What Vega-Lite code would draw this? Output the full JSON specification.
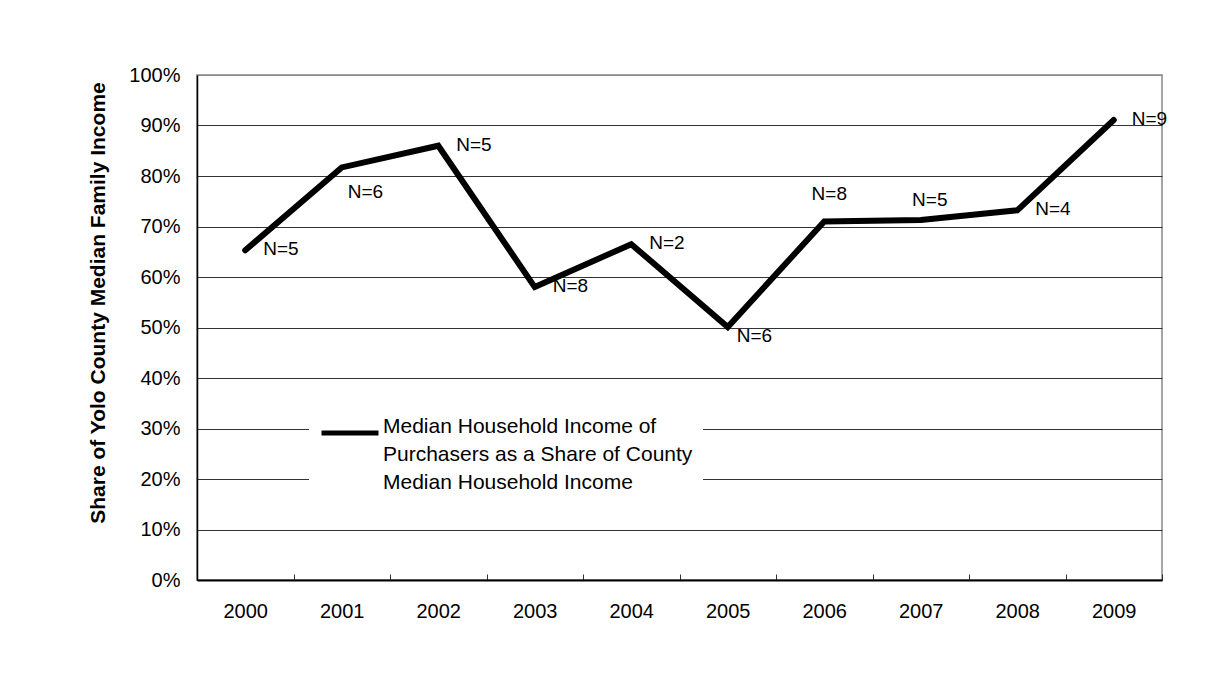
{
  "$schema": "https://vega.github.io/schema/vega-lite/v6.json",
  "width": 965,
  "height": 505,
  "autosize": {"type": "none"},
  "padding": {"left": 197, "top": 75, "right": 65, "bottom": 99},
  "background": "white",
  "config": {
    "font": "Liberation Sans",
    "view": {"stroke": "#888", "strokeWidth": 1.5},
    "style": {"guide-label": {"lineHeight": 28}}
  },
  "data": {
    "values": [
      {"year": "2000", "share": 0.653, "label": "N=5", "series": "Median Household Income of Purchasers as a Share of County Median Household Income"},
      {"year": "2001", "share": 0.817, "label": "N=6", "series": "Median Household Income of Purchasers as a Share of County Median Household Income"},
      {"year": "2002", "share": 0.860, "label": "N=5", "series": "Median Household Income of Purchasers as a Share of County Median Household Income"},
      {"year": "2003", "share": 0.580, "label": "N=8", "series": "Median Household Income of Purchasers as a Share of County Median Household Income"},
      {"year": "2004", "share": 0.665, "label": "N=2", "series": "Median Household Income of Purchasers as a Share of County Median Household Income"},
      {"year": "2005", "share": 0.501, "label": "N=6", "series": "Median Household Income of Purchasers as a Share of County Median Household Income"},
      {"year": "2006", "share": 0.710, "label": "N=8", "series": "Median Household Income of Purchasers as a Share of County Median Household Income"},
      {"year": "2007", "share": 0.713, "label": "N=5", "series": "Median Household Income of Purchasers as a Share of County Median Household Income"},
      {"year": "2008", "share": 0.732, "label": "N=4", "series": "Median Household Income of Purchasers as a Share of County Median Household Income"},
      {"year": "2009", "share": 0.911, "label": "N=9", "series": "Median Household Income of Purchasers as a Share of County Median Household Income"}
    ]
  },
  "encoding": {
    "x": {
      "field": "year",
      "type": "ordinal",
      "bandPosition": 0.5,
      "scale": {"type": "band", "paddingInner": 0, "paddingOuter": 0},
      "axis": {
        "title": null,
        "labelAngle": 0,
        "labelFontSize": 20,
        "labelColor": "black",
        "tickBand": "extent",
        "tickSize": -6,
        "tickColor": "#333",
        "domainColor": "black",
        "domainWidth": 2,
        "labelPadding": 27,
        "grid": false
      }
    },
    "y": {
      "field": "share",
      "type": "quantitative",
      "scale": {"domain": [0, 1]},
      "axis": {
        "format": ".0%",
        "values": [0, 0.1, 0.2, 0.3, 0.4, 0.5, 0.6, 0.7, 0.8, 0.9, 1],
        "ticks": false,
        "labelPadding": 17,
        "labelFontSize": 20,
        "labelColor": "black",
        "domainColor": "black",
        "domainWidth": 1.5,
        "gridColor": {"condition": {"test": "datum.value >= 1", "value": "#888"}, "value": "#333"},
        "title": "Share of Yolo County Median Family Income",
        "titleFontSize": 21,
        "titleFontWeight": "bold",
        "titleColor": "black",
        "titleAngle": -90,
        "titleAlign": "center",
        "titleBaseline": "middle",
        "titleX": -99,
        "titleY": 227.5
      }
    }
  },
  "layer": [
    {
      "mark": {"type": "line", "color": "black", "strokeWidth": 6, "strokeCap": "round", "strokeJoin": "miter"},
      "encoding": {
        "color": {
          "field": "series",
          "type": "nominal",
          "scale": {"range": ["black"]},
          "legend": {
            "orient": "none",
            "legendX": 112,
            "legendY": 317,
            "title": null,
            "fillColor": "white",
            "padding": 10,
            "symbolType": "stroke",
            "symbolStrokeWidth": 5,
            "symbolSize": 3249,
            "symbolStrokeColor": "black",
            "labelFontSize": 21,
            "labelColor": "black",
            "labelLimit": 0,
            "labelOffset": 2,
            "labelBaseline": "alphabetic",
            "labelExpr": "['Median Household Income of', 'Purchasers as a Share of County', 'Median Household Income']"
          }
        }
      }
    },
    {
      "transform": [{"filter": {"field": "year", "oneOf": ["2000", "2002", "2003", "2004", "2008", "2009"]}}],
      "mark": {"type": "text", "align": "left", "baseline": "middle", "dx": 18, "dy": -1, "fontSize": 19, "color": "black"},
      "encoding": {"text": {"field": "label"}}
    },
    {
      "transform": [{"filter": {"field": "year", "equal": "2001"}}],
      "mark": {"type": "text", "align": "left", "baseline": "middle", "dx": 6, "dy": 25, "fontSize": 19, "color": "black"},
      "encoding": {"text": {"field": "label"}}
    },
    {
      "transform": [{"filter": {"field": "year", "equal": "2005"}}],
      "mark": {"type": "text", "align": "left", "baseline": "middle", "dx": 9, "dy": 9, "fontSize": 19, "color": "black"},
      "encoding": {"text": {"field": "label"}}
    },
    {
      "transform": [{"filter": {"field": "year", "equal": "2006"}}],
      "mark": {"type": "text", "align": "center", "baseline": "middle", "dx": 5, "dy": -27, "fontSize": 19, "color": "black"},
      "encoding": {"text": {"field": "label"}}
    },
    {
      "transform": [{"filter": {"field": "year", "equal": "2007"}}],
      "mark": {"type": "text", "align": "center", "baseline": "middle", "dx": 9, "dy": -20, "fontSize": 19, "color": "black"},
      "encoding": {"text": {"field": "label"}}
    }
  ]
}
